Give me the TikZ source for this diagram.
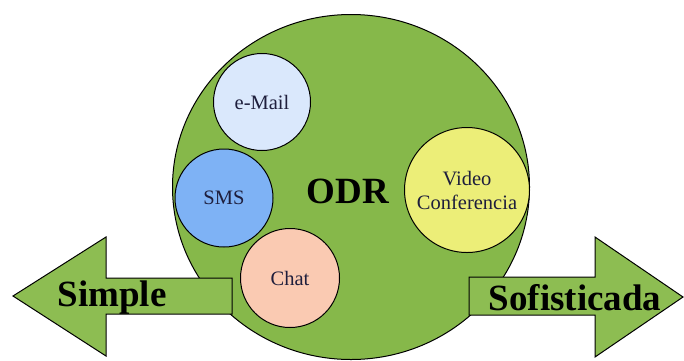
\documentclass[tikz,border=0pt]{standalone}
\usepackage{fontspec}
\setmainfont{Liberation Serif}
\usetikzlibrary{shapes}
\definecolor{odrgreen}{RGB}{134,184,74}
\definecolor{arrowgreen}{RGB}{141,189,82}
\definecolor{mailblue}{RGB}{218,232,252}
\definecolor{smsblue}{RGB}{126,178,245}
\definecolor{videoyellow}{RGB}{236,238,120}
\definecolor{chatpink}{RGB}{250,202,178}
\definecolor{labelnavy}{RGB}{30,30,60}
\tikzset{
  channel/.style={circle, draw, line width=1, inner sep=0pt, text=labelnavy,
    font=\fontsize{20.5}{24}\selectfont, align=center},
  bigword/.style={font=\fontsize{37}{40}\selectfont\bfseries, inner sep=0pt, anchor=base}
}

\begin{document}
\begin{tikzpicture}[x=1pt,y=-1pt]
\useasboundingbox (0,0) rectangle (684,360);
\node[ellipse, draw, line width=1, fill=odrgreen, minimum width=357pt, minimum height=345pt, inner sep=0pt] (odr) at (351,187) {};
\node[bigword] (odrlabel) at (348,203) {ODR};
\node[channel, fill=mailblue, minimum size=97pt] (email) at (262,102) {e-Mail};
\node[channel, fill=smsblue, minimum size=98pt] (sms) at (224,198) {SMS};
\node[channel, fill=videoyellow, minimum size=125pt] (video) at (467,190) {Video\\Conferencia};
\node[channel, fill=chatpink, minimum size=99pt] (chat) at (290,278) {Chat};
\draw[line width=1, fill=arrowgreen](232,278) -- (106,278) -- (106,237) -- (13,296) -- (106,356) -- (106,314) -- (232,314) -- cycle;
\draw[line width=1, fill=arrowgreen](469,277) -- (595,277) -- (595,237) -- (683,297) -- (595,357) -- (595,315) -- (469,315) -- cycle;
\node[bigword] (simple) at (112,306) {Simple};
\node[bigword] (sofisticada) at (575,310) {Sofisticada};
\end{tikzpicture}
\end{document}
